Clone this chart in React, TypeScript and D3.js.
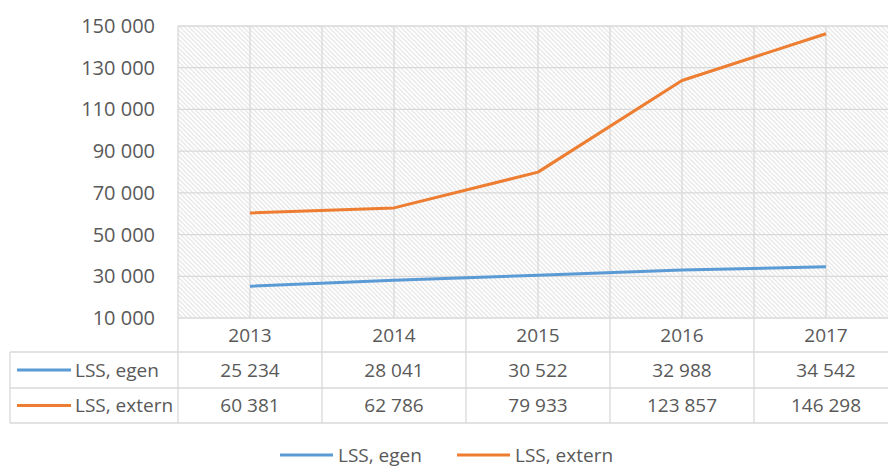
import React from "react";
import * as d3 from "d3";

const years = ["2013", "2014", "2015", "2016", "2017"];
const egen = [25234, 28041, 30522, 32988, 34542];
const extern = [60381, 62786, 79933, 123857, 146298];
const yTicks = [10000, 30000, 50000, 70000, 90000, 110000, 130000, 150000];

const seriesList = [
  { name: "LSS, egen", values: egen, color: "#5B9BD5" },
  { name: "LSS, extern", values: extern, color: "#ED7D31" },
];

const W = 888;
const H = 468;
const left = 178;
const right = 898;
const top = 26;
const bottom = 318;
const rowH = 35;
const tableLeft = 10;
const grid = "#d9d9d9";
const textColor = "#595959";
const font = "'Open Sans', sans-serif";

const fmt = d3
  .formatLocale({ decimal: ",", thousands: " ", grouping: [3], currency: ["", ""] })
  .format(",d");

const App: React.FC = () => {
  const x = d3.scaleBand<string>().domain(years).range([left, right]).padding(0);
  const y = d3.scaleLinear().domain([10000, 150000]).range([bottom, top]);
  const cx = (yr: string) => (x(yr) ?? 0) + x.bandwidth() / 2;

  const line = d3
    .line<number>()
    .x((_, i) => cx(years[i]))
    .y((d) => y(d));

  const row1 = bottom + rowH - 1;
  const row2 = row1 + rowH + 1;
  const row3 = row2 + rowH;

  return (
    <svg width={W} height={H} style={{ display: "block", fontFamily: font }}>
      <style>{`body{margin:0}`}</style>
      <defs>
        <pattern id="hatch" width={4.5} height={4.5} patternUnits="userSpaceOnUse">
          <path d="M-1,-1 L5.5,5.5 M-1,3.5 L1,5.5 M3.5,-1 L5.5,1" stroke="#dedede" strokeWidth={1} />
        </pattern>
      </defs>
      <rect width={W} height={H} fill="#fff" />
      <rect x={left} y={top} width={right - left} height={bottom - top} fill="url(#hatch)" />

      {yTicks.map((t) => (
        <g key={t}>
          <line x1={left} x2={right} y1={y(t)} y2={y(t)} stroke={grid} strokeWidth={1.3} />
          <text x={155} y={y(t)} dy="0.35em" textAnchor="end" fontSize={20} fill={textColor}>
            {fmt(t)}
          </text>
        </g>
      ))}

      {years.map((yr) => (
        <g key={yr}>
          <line x1={cx(yr)} x2={cx(yr)} y1={top} y2={bottom} stroke={grid} strokeWidth={1.3} />
          <line
            x1={x(yr)}
            x2={x(yr)}
            y1={top}
            y2={row3}
            stroke={grid}
            strokeWidth={1.3}
          />
          <text x={cx(yr)} y={(bottom + row1) / 2} dy="0.35em" textAnchor="middle" fontSize={19} fill={textColor}>
            {yr}
          </text>
        </g>
      ))}

      <line x1={tableLeft} x2={right} y1={row1} y2={row1} stroke={grid} strokeWidth={1.3} />
      <line x1={tableLeft} x2={right} y1={row2} y2={row2} stroke={grid} strokeWidth={1.3} />
      <line x1={tableLeft} x2={right} y1={row3} y2={row3} stroke={grid} strokeWidth={1.3} />
      <line x1={tableLeft} x2={tableLeft} y1={row1} y2={row3} stroke={grid} strokeWidth={1.3} />

      {seriesList.map((s, si) => {
        const ry = si === 0 ? (row1 + row2) / 2 : (row2 + row3) / 2;
        return (
          <g key={s.name}>
            <path d={line(s.values) ?? ""} fill="none" stroke={s.color} strokeWidth={3} strokeLinejoin="round" />
            <line x1={17} x2={71} y1={ry} y2={ry} stroke={s.color} strokeWidth={3} />
            <text x={75} y={ry} dy="0.35em" fontSize={19} fill={textColor}>
              {s.name}
            </text>
            {s.values.map((v, i) => (
              <text key={i} x={cx(years[i])} y={ry} dy="0.35em" textAnchor="middle" fontSize={19} fill={textColor}>
                {fmt(v)}
              </text>
            ))}
          </g>
        );
      })}

      {seriesList.map((s, si) => {
        const lx = si === 0 ? 280 : 457;
        return (
          <g key={"leg" + s.name}>
            <line x1={lx} x2={lx + 53} y1={455} y2={455} stroke={s.color} strokeWidth={3} />
            <text x={lx + 58} y={455} dy="0.35em" fontSize={19} fill={textColor}>
              {s.name}
            </text>
          </g>
        );
      })}
    </svg>
  );
};

export default App;
